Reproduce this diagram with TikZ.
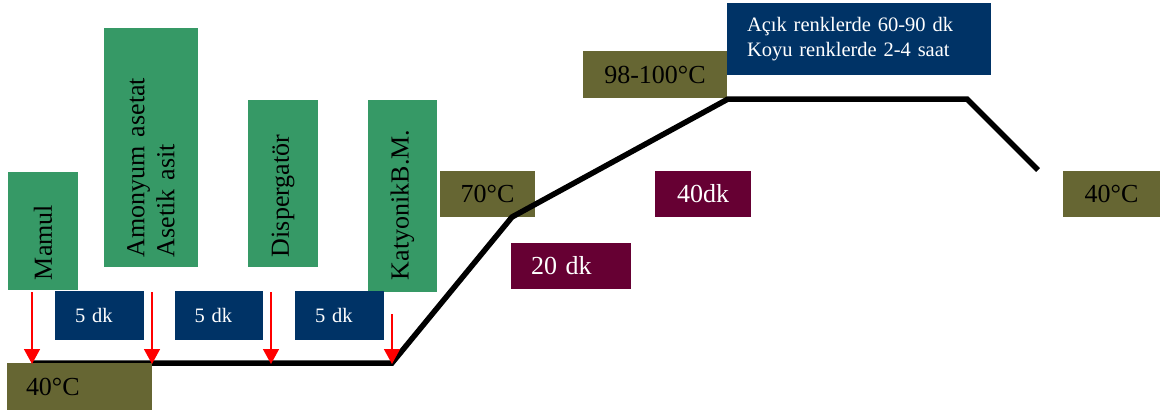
\documentclass[tikz,border=0pt]{standalone}
\usepackage{fontspec}
\setmainfont{Liberation Serif}
\usetikzlibrary{arrows.meta}
\definecolor{dosgreen}{RGB}{54,153,102}
\definecolor{dosolive}{RGB}{102,102,51}
\definecolor{dosnavy}{RGB}{0,51,102}
\definecolor{dosmaroon}{RGB}{102,0,51}
\begin{document}
\begin{tikzpicture}[x=1pt,y=-1pt,
  big/.style={font=\fontsize{26}{30}\selectfont},
  small/.style={font=\fontsize{20.5}{25}\selectfont},
  panel/.style={inner sep=0pt, outer sep=0pt},
  chem/.style={panel, big, fill=dosgreen, text=black, rotate=90,
    align=left, inner xsep=#1},
  chem/.default=10pt,
  temp/.style={panel, big, fill=dosolive, text=black},
  wait/.style={panel, small, fill=dosnavy, text=white, align=left},
  ramp/.style={panel, big, fill=dosmaroon, text=white},
  profile/.style={line width=5.5pt, black, line join=miter},
  feed/.style={red, line width=1.5pt, -{Triangle[width=16pt,length=15pt]}}]
\useasboundingbox (0,0) rectangle (1163,410);

% temperatures along the profile (drawn under the line)
\node[temp, minimum width=95pt, minimum height=46pt] (tb) at (487.5,194) {70°C};
\node[temp, minimum width=144pt, minimum height=47pt] (tc) at (655,74.5) {98-100°C};

% temperature profile
\coordinate (p0) at (32,363);
\coordinate (p1) at (152,363);
\coordinate (p2) at (271,363);
\coordinate (p3) at (392,363);
\coordinate (p4) at (512,217);
\coordinate (p5) at (728,99);
\coordinate (p6) at (967,99);
\coordinate (p7) at (1038,170);
\draw[profile] (p0) -- (p1) -- (p2) -- (p3) -- (p4) -- (p5) -- (p6) -- (p7);

% chemicals added
\node[chem, minimum width=118pt, minimum height=70pt, text width=98pt]
  (mamul) at (43,231) {Mamul};
\node[chem, minimum width=239pt, minimum height=94pt, text width=219pt]
  (amon) at (151,147.5) {Amonyum asetat\\Asetik asit};
\node[chem, minimum width=167pt, minimum height=70pt, text width=147pt]
  (disp) at (283,183.5) {Dispergatör};
\node[chem=12pt, minimum width=192pt, minimum height=69pt, text width=168pt]
  (katy) at (402.5,196) {KatyonikB.M.};

% waiting times
\node[wait, minimum width=89pt, minimum height=49pt, text width=49pt, inner xsep=20pt]
  (w1) at (99.5,315.5) {5 dk};
\node[wait, minimum width=88pt, minimum height=49pt, text width=49pt, inner xsep=19.5pt]
  (w2) at (219,315.5) {5 dk};
\node[wait, minimum width=89pt, minimum height=49pt, text width=49pt, inner xsep=20pt]
  (w3) at (339.5,315.5) {5 dk};
\node[wait, minimum width=264pt, minimum height=72pt, text width=224pt, inner xsep=20pt]
  (hold) at (859,39) {Açık renklerde 60-90 dk\\Koyu renklerde 2-4 saat};

% start and end temperatures
\node[temp, minimum width=145pt, minimum height=47pt, align=left, text width=107pt, inner xsep=19pt]
  (ta) at (79.5,386.5) {40°C};
\node[temp, minimum width=97pt, minimum height=46pt] (td) at (1111.5,194) {40°C};

% heating durations
\node[ramp, minimum width=120pt, minimum height=46pt, align=left, text width=80pt, inner xsep=20pt]
  (r1) at (571,266) {20 dk};
\node[ramp, minimum width=96pt, minimum height=46pt] (r2) at (703,194) {40dk};

% dosing arrows
\coordinate (a0) at (32,292);
\coordinate (a1) at (152,292);
\coordinate (a2) at (271,292);
\coordinate (a3) at (392,314);
\draw[feed] (a0) -- ([yshift=-1pt]p0);
\draw[feed] (a1) -- ([yshift=-1pt]p1);
\draw[feed] (a2) -- ([yshift=-1pt]p2);
\draw[feed] (a3) -- ([yshift=-1pt]p3);
\end{tikzpicture}
\end{document}
